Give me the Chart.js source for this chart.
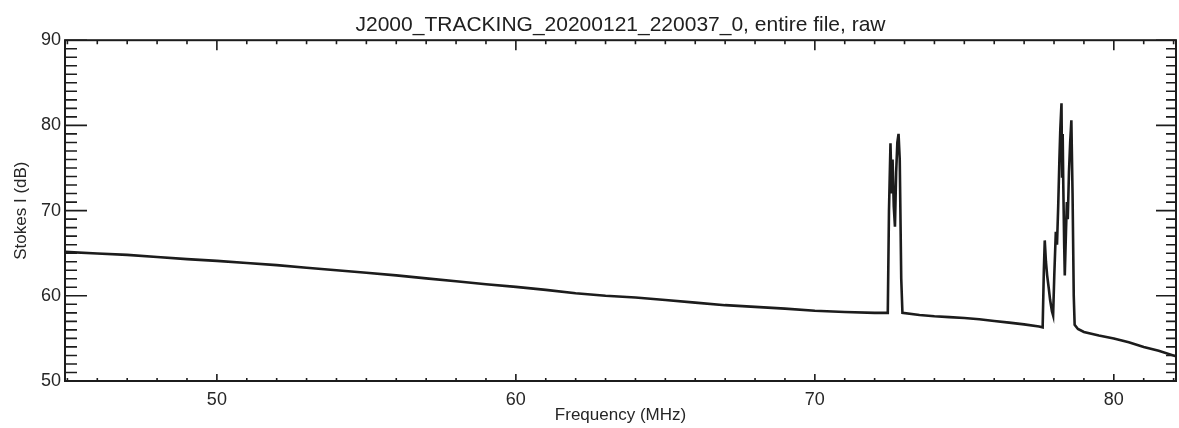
<!DOCTYPE html>
<html>
<head>
<meta charset="utf-8">
<title>J2000_TRACKING_20200121_220037_0</title>
<script src="https://cdn.jsdelivr.net/npm/chart.js@4/dist/chart.umd.min.js"></script>
<style>
  html, body { margin: 0; padding: 0; background: #ffffff; }
  #wrap { width: 1179px; height: 428px; }
</style>
</head>
<body>
<div id="wrap"><canvas id="spec" width="1179" height="428"></canvas></div>
<script>
// Spectrum: frequency (MHz) and Stokes I (dB)
const freqMHz = [
  44.92, 46.0, 47.0, 48.0, 49.0, 50.0, 51.0, 52.0, 53.0, 54.0,
  55.0, 56.0, 57.0, 58.0, 59.0, 60.0, 61.0, 62.0, 63.0, 64.0,
  65.0, 66.0, 67.0, 68.0, 69.0, 70.0, 71.0, 72.0, 72.44,
  72.48, 72.53, 72.57, 72.60, 72.64, 72.68, 72.72, 72.76, 72.80, 72.84, 72.89, 72.93,
  73.5, 74.0, 74.5, 75.0, 75.5, 76.0, 76.5, 77.0, 77.5, 77.62,
  77.66, 77.69, 77.73, 77.77, 77.82, 77.87, 77.93, 77.97, 78.01, 78.06,
  78.10, 78.14, 78.18, 78.21, 78.25, 78.27, 78.29, 78.31, 78.34, 78.36,
  78.40, 78.43, 78.46, 78.50, 78.54, 78.58, 78.62, 78.66, 78.69,
  78.8, 79.0, 79.5, 80.0, 80.5, 81.0, 81.5, 82.08
];
const stokesI = [
  65.15, 64.97, 64.80, 64.55, 64.30, 64.10, 63.85, 63.60, 63.30, 63.00,
  62.70, 62.40, 62.05, 61.70, 61.35, 61.05, 60.70, 60.30, 60.00, 59.80,
  59.50, 59.20, 58.90, 58.70, 58.50, 58.25, 58.10, 58.00, 58.00,
  70.0, 77.9, 72.0, 76.0, 70.5, 68.1, 74.5, 78.0, 79.0, 76.0, 62.0, 58.0,
  57.75, 57.60, 57.50, 57.40, 57.25, 57.05, 56.85, 56.65, 56.40, 56.30,
  63.0, 66.5, 64.0, 62.4, 61.0, 59.5, 58.2, 57.7, 62.5, 67.5,
  66.0, 70.5, 76.0, 79.5, 82.6, 74.0, 79.0, 73.0, 66.0, 62.4,
  67.5, 71.0, 69.0, 74.5, 78.0, 80.6, 72.0, 60.0, 56.6,
  56.10, 55.75, 55.35, 55.00, 54.55, 54.00, 53.55, 52.90
];

// Axis ranges and labelled ticks
const freqRange = [44.92, 82.08];
const dbRange = [50, 90];
const xTickValues = [50, 60, 70, 80];
const xTickLabels = ['50', '60', '70', '80'];
const yTickValues = [50, 60, 70, 80, 90];
const yTickLabels = ['50', '60', '70', '80', '90'];

const titleText = 'J2000_TRACKING_20200121_220037_0, entire file, raw';
const xTitle = 'Frequency (MHz)';
const yTitle = 'Stokes I (dB)';

const INK = '#1c1c1c';
Chart.defaults.font.family = "'Liberation Sans', Arial, Helvetica, sans-serif";
Chart.defaults.color = '#262626';

// Frame around the plot with inward major/minor ticks on all four sides
const framePlugin = {
  id: 'frameTicks',
  afterDraw(chart) {
    const { ctx, chartArea: a, scales } = chart;
    const xs = scales.x, ys = scales.y;
    ctx.save();
    ctx.strokeStyle = INK;
    ctx.lineWidth = 2;
    ctx.strokeRect(a.left, a.top, a.right - a.left, a.bottom - a.top);
    ctx.lineWidth = 1.6;
    ctx.beginPath();
    for (let v = Math.ceil(xs.min); v <= xs.max; v++) {
      const px = xs.getPixelForValue(v);
      const major = v % 10 === 0;
      ctx.moveTo(px, a.bottom); ctx.lineTo(px, a.bottom - (major ? 7 : 3));
      ctx.moveTo(px, a.top); ctx.lineTo(px, a.top + (major ? 10 : 4));
    }
    for (let v = Math.ceil(ys.min); v <= ys.max; v++) {
      const py = ys.getPixelForValue(v);
      const major = v % 10 === 0;
      ctx.moveTo(a.left, py); ctx.lineTo(a.left + (major ? 22 : 12), py);
      ctx.moveTo(a.right, py); ctx.lineTo(a.right - (major ? 20 : 10), py);
    }
    ctx.stroke();
    ctx.restore();
  }
};

new Chart(document.getElementById('spec'), {
  type: 'line',
  data: {
    datasets: [{
      data: freqMHz.map((f, i) => ({ x: f, y: stokesI[i] })),
      borderColor: INK,
      borderWidth: 2.6,
      pointRadius: 0,
      tension: 0,
      fill: false
    }]
  },
  options: {
    responsive: false,
    animation: false,
    devicePixelRatio: 1,
    layout: { padding: { left: 0, right: 3, top: 0, bottom: 0 } },
    plugins: {
      legend: { display: false },
      tooltip: { enabled: false },
      title: {
        display: true,
        fullSize: false,
        text: titleText,
        color: '#202020',
        font: { size: 21, weight: 'normal' },
        padding: { top: 13, bottom: 2 }
      }
    },
    scales: {
      x: {
        type: 'linear',
        min: freqRange[0],
        max: freqRange[1],
        grid: { display: false, drawTicks: false },
        border: { display: false },
        afterBuildTicks: s => { s.ticks = xTickValues.map(v => ({ value: v })); },
        afterFit: s => { s.height = 47; },
        ticks: {
          font: { size: 18 },
          padding: 8,
          maxRotation: 0,
          callback: v => xTickLabels[xTickValues.indexOf(v)]
        },
        title: {
          display: true,
          text: xTitle,
          font: { size: 17 },
          padding: { top: 0, bottom: 2 }
        }
      },
      y: {
        min: dbRange[0],
        max: dbRange[1],
        grid: { display: false, drawTicks: false },
        border: { display: false },
        afterBuildTicks: s => { s.ticks = yTickValues.map(v => ({ value: v })); },
        afterFit: s => { s.width = 65; },
        ticks: {
          font: { size: 18 },
          padding: 4,
          callback: v => yTickLabels[yTickValues.indexOf(v)]
        },
        title: {
          display: true,
          text: yTitle,
          font: { size: 17 },
          padding: { top: 11, bottom: 0 }
        }
      }
    }
  },
  plugins: [framePlugin]
});
</script>
</body>
</html>
